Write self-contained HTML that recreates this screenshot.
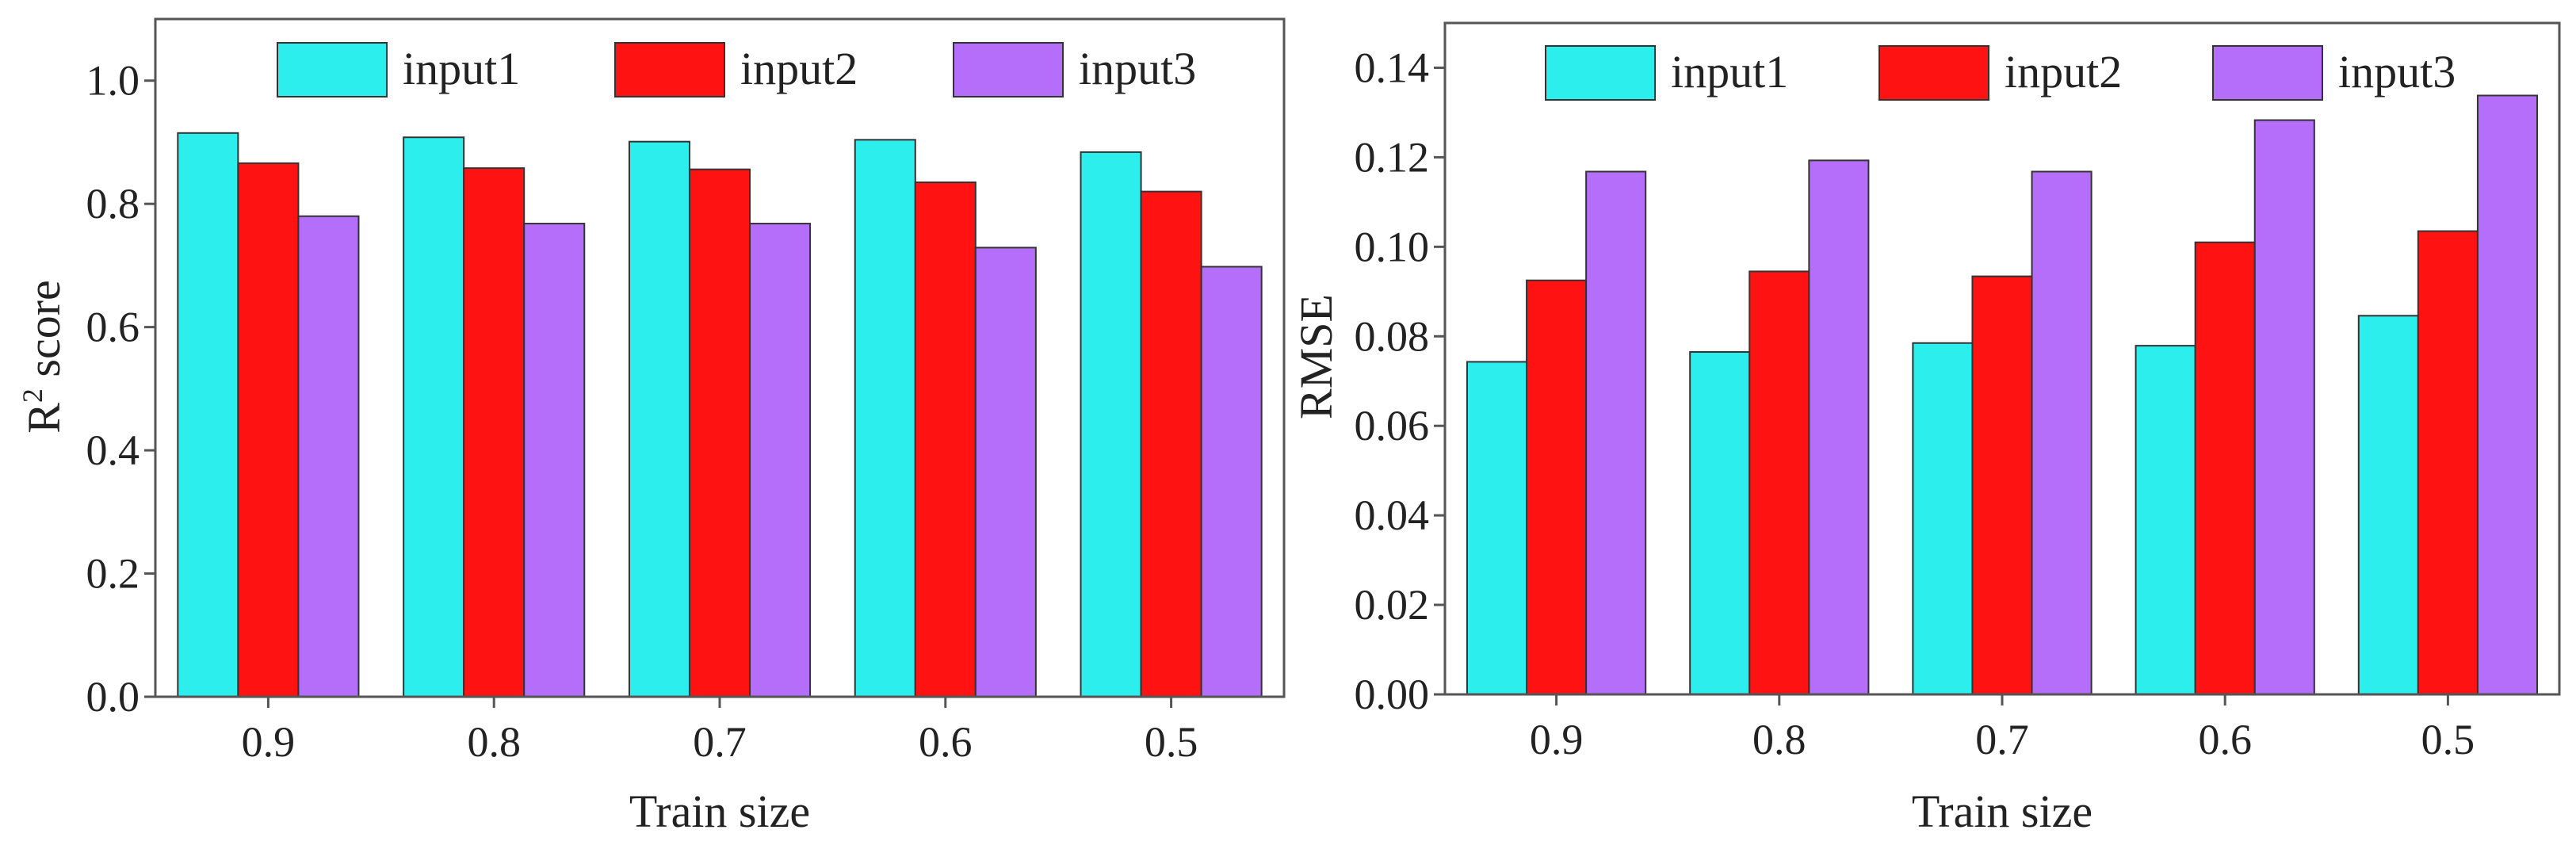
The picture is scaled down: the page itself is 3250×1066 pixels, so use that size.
<!DOCTYPE html>
<html><head><meta charset="utf-8"><style>
html,body{margin:0;padding:0;background:#fff;}
svg{display:block;font-family:"Liberation Serif",serif;}
</style></head><body>
<svg id="c" width="3250" height="1066" viewBox="0 0 3250 1066" xmlns="http://www.w3.org/2000/svg"></svg>
<script>
const categories = ["0.9","0.8","0.7","0.6","0.5"];
const seriesNames = ["input1","input2","input3"];
const r2Input1 = [0.915,0.908,0.901,0.904,0.884];
const r2Input2 = [0.866,0.858,0.856,0.835,0.820];
const r2Input3 = [0.780,0.768,0.768,0.729,0.698];
const rmseInput1 = [0.0743,0.0765,0.0785,0.0779,0.0846];
const rmseInput2 = [0.0925,0.0945,0.0934,0.1010,0.1035];
const rmseInput3 = [0.1168,0.1193,0.1168,0.1283,0.1338];
const r2Ticks = ["0.0","0.2","0.4","0.6","0.8","1.0"];
const rmseTicks = ["0.00","0.02","0.04","0.06","0.08","0.10","0.12","0.14"];
const colors = ["#2CEEEC","#FF1212","#B46EFA"];
const NS="http://www.w3.org/2000/svg";
const svg=document.getElementById('c');
function mk(tag,attrs,parent){const e=document.createElementNS(NS,tag);for(const k in attrs)e.setAttribute(k,attrs[k]);(parent||svg).appendChild(e);return e;}

function drawPanel(p){
  const g=mk('g',{});
  
  
  const y=v=>p.bottom-(v-0)/(p.ymax)*(p.bottom-p.top);
  const step=(p.right-p.left)/categories.length;
  const x=i=>p.left+step*(i+0.5);
  const bw=step*0.267;
  // bars
  p.series.forEach((vals,s)=>{
    vals.forEach((v,i)=>{
      const r=mk('rect',{x:x(i)+(s-1.5)*bw,y:y(v),width:bw,height:p.bottom-y(v),fill:colors[s],stroke:'#333','stroke-width':2},g);
      
      
    });
  });
  // frame
  const f=mk('rect',{x:p.left,y:p.top,width:p.right-p.left,height:p.bottom-p.top,fill:'none',stroke:'#555','stroke-width':3},g);
  
  
  // y ticks
  p.ticks.forEach(t=>{
    const v=parseFloat(t);
    mk('line',{x1:p.left-14,x2:p.left,y1:y(v),y2:y(v),stroke:'#555','stroke-width':3},g);
    const tx=mk('text',{x:p.left-20,y:y(v)+18,'text-anchor':'end','font-size':54,fill:'#222'},g);
    tx.textContent=t;
    
    
  });
  // x ticks
  categories.forEach((c,i)=>{
    mk('line',{x1:x(i),x2:x(i),y1:p.bottom,y2:p.bottom+14,stroke:'#555','stroke-width':3},g);
    const tx=mk('text',{x:x(i),y:p.bottom+75,'text-anchor':'middle','font-size':54,fill:'#222'},g);
    tx.textContent=c;
    
    
  });
  const xt=mk('text',{x:(p.left+p.right)/2,y:1043,'text-anchor':'middle','font-size':58,fill:'#222'},g);
  xt.textContent='Train size';
  
  
  const yt=mk('text',{x:0,y:0,'text-anchor':'middle','font-size':58,fill:'#222',transform:'translate('+p.ytx+',450) rotate(-90)'},g);
  yt.innerHTML=p.ytitle;
  
  
  // legend
  p.legend.forEach((lx,s)=>{
    const lg=mk('g',{},g);
    
    
    mk('rect',{x:lx,y:p.legY,width:138,height:68,fill:colors[s],stroke:'#333','stroke-width':2},lg);
    const t=mk('text',{x:lx+158,y:p.legY+52,'font-size':58,fill:'#222'},lg);
    t.textContent=seriesNames[s];
  });
}
drawPanel({name:'r2-chart',left:196,right:1620,top:24,bottom:879,ymax:1.1,series:[r2Input1,r2Input2,r2Input3],ticks:r2Ticks,ytx:75,ytitle:'R<tspan font-size="36" dy="-22">2</tspan><tspan dy="22"> score</tspan>',legend:[350,776,1203],legY:54});
drawPanel({name:'rmse-chart',left:1823,right:3229,top:29,bottom:876,ymax:0.15,series:[rmseInput1,rmseInput2,rmseInput3],ticks:rmseTicks,ytx:1680,ytitle:'RMSE',legend:[1950,2371,2792],legY:58});
</script>
</body></html>
